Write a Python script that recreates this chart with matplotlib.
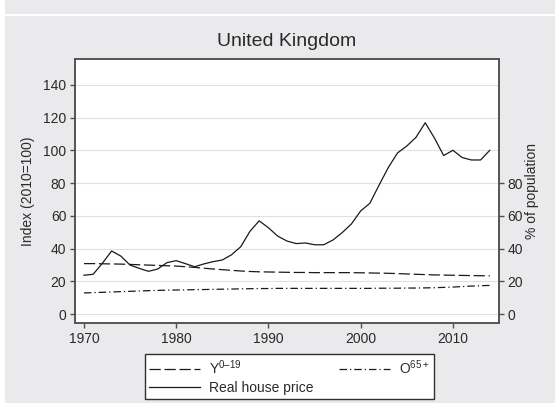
import matplotlib.pyplot as plt
from matplotlib.patches import Rectangle

plt.rcParams['font.family'] = ['Liberation Sans', 'DejaVu Sans']
plt.rcParams['mathtext.fontset'] = 'custom'
plt.rcParams['mathtext.rm'] = 'Liberation Sans'
plt.rcParams['mathtext.it'] = 'Liberation Sans:italic'

years = list(range(1970, 2015))

# real house price index, 2010 = 100
house_price = [23.8, 24.4, 31.1, 38.6, 35.5, 30.0, 28.0, 26.2, 27.6, 31.5,
               32.7, 30.9, 29.0, 30.7, 32.1, 33.1, 36.3, 41.2, 50.6, 57.0,
               52.8, 47.7, 44.7, 43.1, 43.5, 42.4, 42.4, 45.3, 49.8, 55.1,
               63.0, 67.7, 78.8, 89.5, 98.4, 102.6, 107.9, 116.8, 107.5, 96.8,
               100.0, 95.6, 94.1, 94.1, 100.0]

# population shares (%)
young_share = [30.9, 30.9, 30.8, 30.7, 30.6, 30.4, 30.2, 30.0, 29.8, 29.6,
               29.4, 29.0, 28.6, 28.1, 27.6, 27.2, 26.8, 26.4, 26.1, 25.9,
               25.8, 25.7, 25.6, 25.5, 25.5, 25.4, 25.4, 25.4, 25.4, 25.4,
               25.3, 25.2, 25.1, 25.0, 24.8, 24.6, 24.4, 24.2, 24.0, 23.9,
               23.8, 23.7, 23.6, 23.5, 23.5]
old_share = [13.0, 13.2, 13.4, 13.6, 13.8, 14.0, 14.2, 14.4, 14.6, 14.7,
             14.8, 14.9, 15.0, 15.1, 15.2, 15.3, 15.4, 15.5, 15.6, 15.7,
             15.7, 15.8, 15.8, 15.8, 15.8, 15.8, 15.8, 15.8, 15.8, 15.8,
             15.8, 15.8, 15.9, 15.9, 15.9, 16.0, 16.0, 16.1, 16.2, 16.4,
             16.6, 16.9, 17.2, 17.4, 17.6]

left_ticks = [0, 20, 40, 60, 80, 100, 120, 140]
right_ticks = [0, 20, 40, 60, 80]
x_ticks = [1970, 1980, 1990, 2000, 2010]

W, H = 555, 403
bg = '#eaeaec'
spine_col = '#505050'
text_col = '#2a2a2a'

fig = plt.figure(figsize=(W / 100, H / 100), dpi=100, facecolor=bg)

# white borders of the graph region
fig.patches.append(Rectangle((0, 0), 5 / W, 1, transform=fig.transFigure,
                             facecolor='white', edgecolor='none'))
fig.patches.append(Rectangle((0, 1 - 15.7 / H), 1, 1.7 / H, transform=fig.transFigure,
                             facecolor='white', edgecolor='none'))

ax = fig.add_axes([74.7 / W, 1 - 323.3 / H, (499 - 74.7) / W, (323.3 - 59.3) / H])
ax.set_facecolor('white')
ax.set_xlim(1969, 2015)
ax.set_ylim(-5.5, 155.5)
ax.set_yticks(left_ticks)
ax.set_xticks(x_ticks)
ax.yaxis.grid(True, color='#e0e0e0', linewidth=0.8)
ax.set_axisbelow(True)

ax2 = ax.twinx()
ax2.set_ylim(-5.5, 155.5)
ax2.set_yticks(right_ticks)

for a in (ax, ax2):
    for s in a.spines.values():
        s.set_color(spine_col)
        s.set_linewidth(1.1)
    a.tick_params(colors=spine_col, labelcolor=text_col, labelsize=10,
                  length=3.6, width=1.0, pad=2.4)
ax.tick_params(axis='x', pad=3)

l_price, = ax.plot(years, house_price, color='#1a1a1a', linewidth=0.9,
                   label='Real house price')
l_young, = ax2.plot(years, young_share, color='#1a1a1a', linewidth=0.9,
                    dashes=(9, 3), label='Y$^{\\mathrm{0\u201319}}$')
l_old, = ax2.plot(years, old_share, color='#1a1a1a', linewidth=0.9,
                  dashes=(6, 2.4, 1, 2.4), label='O$^{\\mathrm{65+}}$')

ax.set_ylabel('Index (2010=100)', fontsize=10, color=text_col)
ax.yaxis.set_label_coords(-0.0924, 0.5)
ax2.set_ylabel('% of population', fontsize=10, color=text_col)
ax2.yaxis.set_label_coords(1.062, 0.5)

fig.text(286.9 / W, 1 - 41.7 / H, 'United Kingdom', ha='center', va='center',
         fontsize=14, color=text_col)

leg = fig.legend([l_young, l_price, l_old],
                 [l_young.get_label(), l_price.get_label(), l_old.get_label()],
                 ncol=2, loc='upper center', bbox_to_anchor=(289.2 / W, 1 - 354 / H),
                 fontsize=10, frameon=True, fancybox=False, framealpha=1,
                 edgecolor='#303030', handlelength=3.7, handletextpad=0.65,
                 columnspacing=1.8, labelspacing=0.3, borderpad=0.3,
                 borderaxespad=0)
leg.get_frame().set_linewidth(1.0)
for t in leg.get_texts():
    t.set_color(text_col)

fig.savefig('out.png', dpi=100, facecolor=bg)
